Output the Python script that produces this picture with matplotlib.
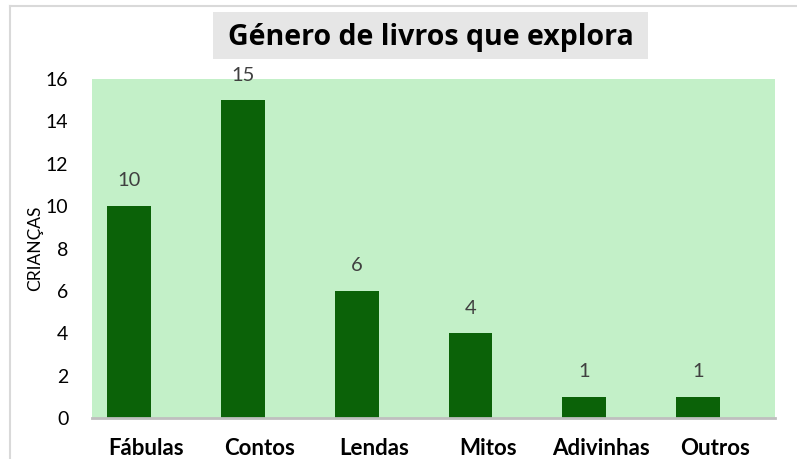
import matplotlib
matplotlib.use("Agg")
import matplotlib.pyplot as plt
from matplotlib.lines import Line2D
from matplotlib.patches import Rectangle

categories = ["Fábulas", "Contos", "Lendas", "Mitos", "Adivinhas", "Outros"]
values = [10, 15, 6, 4, 1, 1]
yticks = [0, 2, 4, 6, 8, 10, 12, 14, 16]

W, H = 797, 459
fig = plt.figure(figsize=(W / 100, H / 100), dpi=100)
fig.patch.set_facecolor("white")

left, right, top, bottom = 92, 775, 79, 418
ax = fig.add_axes([left / W, 1 - bottom / H, (right - left) / W, (bottom - top) / H])
ax.set_facecolor("#c3f0c8")

x = list(range(len(categories)))
ax.bar(x, values, width=0.386, color="#0b6208", zorder=3)
ax.set_xlim(-0.325, len(categories) - 0.325)
ax.set_ylim(0, 16)
ax.set_yticks(yticks)
ax.set_yticklabels([str(t) for t in yticks], fontsize=14, family="Lato", color="#000000")
label_offset = 0.15
ax.set_xticks([xi + label_offset for xi in x])
ax.set_xticklabels(categories, fontsize=16, fontweight="bold", family="Lato", color="#000000")
ax.tick_params(axis="both", length=0)
ax.tick_params(axis="x", pad=14.5)
ax.tick_params(axis="y", pad=17)
for s in ["top", "right", "left"]:
    ax.spines[s].set_visible(False)
ax.spines["bottom"].set_color("#bfbfbf")
ax.spines["bottom"].set_linewidth(2)
ax.spines["bottom"].set_zorder(4)

for xi, v in zip(x, values):
    ax.annotate(str(v), (xi, v), xytext=(0, 12), textcoords="offset points",
                ha="center", va="bottom", fontsize=14.5, family="Lato", color="#404040")

ax.set_ylabel("CRIANÇAS", fontsize=12.5, family="Lato", color="#000000", labelpad=2)

# Title with gray box
fig.patches.append(Rectangle((213 / W, 1 - 59 / H), (648 - 213) / W, 47 / H,
                             transform=fig.transFigure, facecolor="#e6e6e6", edgecolor="none", zorder=0))
fig.text(431 / W, 1 - 37 / H, "Género de livros que explora", ha="center", va="center",
         fontsize=20.5, fontweight="bold", family="Open Sans", color="#000000")

# light frame lines
fig.add_artist(Line2D([10 / W, 1], [1 - 6 / H, 1 - 6 / H], color="#d9d9d9", lw=1.5, transform=fig.transFigure))
fig.add_artist(Line2D([10 / W, 10 / W], [0, 1 - 6 / H], color="#d9d9d9", lw=1.5, transform=fig.transFigure))

fig.savefig("out.png", dpi=100, facecolor="white")
